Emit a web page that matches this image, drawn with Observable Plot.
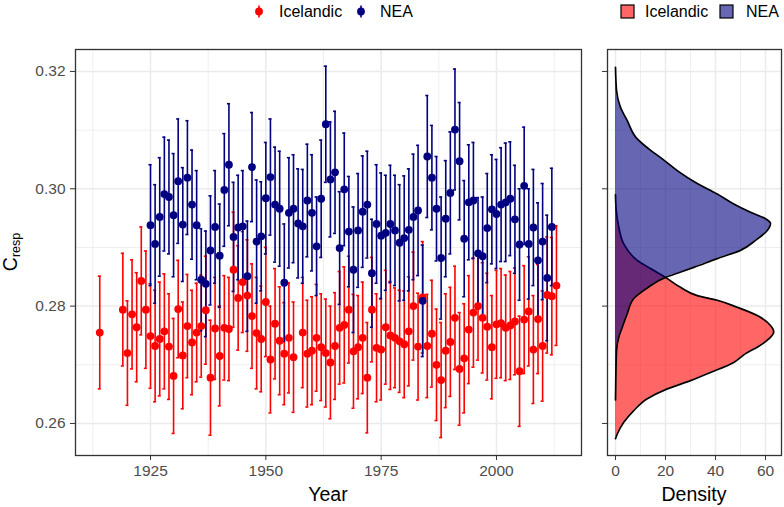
<!DOCTYPE html>
<html><head><meta charset="utf-8">
<script src="https://cdn.jsdelivr.net/npm/d3@7"></script>
<script src="https://cdn.jsdelivr.net/npm/@observablehq/plot@0.6"></script>
<style>
body{margin:0;background:#fff;}
#wrap{position:relative;width:784px;height:507px;font-family:"Liberation Sans",Arial,sans-serif;}
#wrap svg{position:absolute;top:0;}
</style></head><body><div id="wrap"></div>
<script>
// ---- data ----
const redYears = [1914,
1919,1920,1921,1922,1923,1924,1925,1926,1927,1928,1929,1930,1931,1932,1933,1934,1935,1936,1937,1938,1939,1940,1941,1942,1943,1944,1945,1946,1947,1948,1949,1950,1951,1952,1953,1954,1955,1956,
1958,1959,1960,1961,1962,1963,1964,1965,1966,1967,1968,1969,1970,1971,1972,1973,1974,1975,1976,1977,1978,1979,1980,1981,1982,1983,1984,1985,1986,1987,1988,1989,1990,1991,1992,1993,1994,1995,1996,1997,1998,1999,2000,2001,2002,2003,2004,2005,2006,2007,2008,2009,2010,2011,2012,2013];
const redVals = [0.2755,
0.2794,0.2720,0.2786,0.2764,0.2843,0.2794,0.2749,0.2732,0.2744,0.2757,0.2731,0.2681,0.2795,0.2716,0.2766,0.2738,0.2755,0.2766,0.2793,0.2678,0.2762,0.2715,0.2763,0.2761,0.2862,0.2814,0.2841,0.2818,0.2783,0.2754,0.2744,0.2807,0.2709,0.2770,0.2741,0.2719,0.2746,0.2713,
0.2755,0.2719,0.2724,0.2746,0.2730,0.2720,0.2704,0.2732,0.2763,0.2768,0.2794,0.2723,0.2730,0.2746,0.2678,0.2794,0.2729,0.2726,0.2764,0.2750,0.2746,0.2740,0.2735,0.2757,0.2800,0.2731,0.2815,0.2732,0.2753,0.2700,0.2674,0.2724,0.2739,0.2780,0.2693,0.2711,0.2760,0.2789,0.2800,0.2780,0.2765,0.2730,0.2769,0.2771,0.2763,0.2767,0.2774,0.2689,0.2777,0.2791,0.2726,0.2778,0.2732,0.2819,0.2817,0.2835];
const redErr = [0.0096,
0.0096,0.0089,0.0093,0.0093,0.0092,0.0100,0.0089,0.0095,0.0097,0.0098,0.0090,0.0098,0.0083,0.0091,0.0088,0.0089,0.0084,0.0087,0.0092,0.0098,0.0087,0.0085,0.0089,0.0088,0.0098,0.0089,0.0086,0.0095,0.0089,0.0095,0.0090,0.0093,0.0091,0.0094,0.0092,0.0087,0.0094,0.0094,
0.0094,0.0091,0.0092,0.0091,0.0091,0.0092,0.0096,0.0091,0.0096,0.0099,0.0091,0.0097,0.0088,0.0095,0.0094,0.0089,0.0092,0.0086,0.0097,0.0092,0.0085,0.0087,0.0091,0.0093,0.0092,0.0091,0.0095,0.0088,0.0091,0.0095,0.0098,0.0097,0.0093,0.0088,0.0096,0.0093,0.0092,0.0093,0.0092,0.0094,0.0091,0.0088,0.0092,0.0093,0.0090,0.0092,0.0091,0.0094,0.0092,0.0093,0.0092,0.0093,0.0094,0.0099,0.0100,0.0102];

const neaYears = [1925,1926,1927,1928,1929,1930,1931,1932,1933,1934,1935,1936,1937,1938,1939,1940,1941,1942,1943,1944,1945,1946,1947,1948,1949,1950,1951,1952,1953,1954,1955,1956,1957,1958,1959,1960,1961,1962,1963,1964,1965,1966,1967,1968,1969,1970,1971,1972,1973,1974,1975,1976,1977,1978,1979,1980,1981,1982,1983,1984,1985,1986,1987,1988,1989,1990,1991,1992,1993,1994,1995,1996,1997,1998,1999,2000,2001,2002,2003,2004,2005,2006,2007,2008,2009,2010,2011,2012];
const neaVals = [0.2938,0.2906,0.2952,0.2991,0.2986,0.2955,0.3013,0.2939,0.3019,0.2973,0.2938,0.2845,0.2838,0.2895,0.2935,0.2886,0.2998,0.3041,0.2918,0.2934,0.2936,0.2851,0.3037,0.2910,0.2919,0.2984,0.3020,0.2973,0.2966,0.2840,0.2959,0.2966,0.2941,0.2936,0.2980,0.2959,0.2902,0.2983,0.3110,0.3016,0.3028,0.2899,0.2999,0.2927,0.2862,0.2929,0.2961,0.2973,0.2856,0.2940,0.2920,0.2925,0.2940,0.2929,0.2908,0.2916,0.2930,0.2952,0.2963,0.2809,0.3055,0.3019,0.2966,0.2882,0.2949,0.2993,0.3101,0.3047,0.2915,0.2977,0.2980,0.2890,0.2885,0.2933,0.2965,0.2957,0.2973,0.2977,0.2983,0.2948,0.2905,0.3005,0.2906,0.2934,0.2878,0.2910,0.2848,0.2935];
const neaErr = [0.0103,0.0101,0.0101,0.0097,0.0097,0.0105,0.0106,0.0097,0.0097,0.0093,0.0093,0.0087,0.0090,0.0093,0.0096,0.0088,0.0096,0.0104,0.0093,0.0089,0.0095,0.0094,0.0093,0.0105,0.0093,0.0095,0.0099,0.0098,0.0098,0.0100,0.0094,0.0092,0.0093,0.0097,0.0096,0.0099,0.0084,0.0100,0.0099,0.0098,0.0104,0.0096,0.0096,0.0094,0.0107,0.0097,0.0095,0.0091,0.0092,0.0101,0.0107,0.0098,0.0100,0.0094,0.0099,0.0106,0.0104,0.0107,0.0111,0.0095,0.0104,0.0089,0.0089,0.0104,0.0099,0.0104,0.0103,0.0100,0.0099,0.0098,0.0099,0.0095,0.0101,0.0093,0.0093,0.0093,0.0097,0.0101,0.0097,0.0092,0.0095,0.0100,0.0094,0.0099,0.0098,0.0099,0.0107,0.0100];

// density curves (C_resp value, density)
const redDensV = [0.2574,0.2582,0.2602,0.2622,0.2642,0.2659,0.2673,0.2687,0.2704,0.2719,0.2730,0.2744,0.2756,0.2767,0.2784,0.2798,0.2810,0.2818,0.2832,0.2849,0.2864,0.2878,0.2906,0.2935,0.2963,0.2990];
const redDensD = [0,0.7,3.3,7.3,12.7,20.7,30,38,47.3,52,56.7,61.3,63.3,62,56.7,48.7,40.7,32.7,26,20,14,8.7,3.3,1.3,0.3,0];
const neaDensV = [0.2640,0.2668,0.2724,0.2747,0.2764,0.2787,0.2813,0.2831,0.2849,0.2856,0.2866,0.2881,0.2895,0.2912,0.2929,0.2941,0.2949,0.2960,0.2974,0.2991,0.3009,0.3031,0.3051,0.3068,0.3085,0.3116,0.3139,0.3168,0.3207];
const neaDensD = [0,0.1,0.4,1.3,2.7,4.7,7.3,12.7,20,24.7,31.3,40.7,50,56,60.7,62,60,54,47.3,40.7,32.7,24.7,18.7,13.3,8.7,4.7,2,0.4,0];

const xTicks = [1925,1950,1975,2000];
const xMinor = [1912.5,1937.5,1962.5,1987.5,2012.5];
const yTicks = [0.26,0.28,0.30,0.32];
const yMinor = [0.27,0.29,0.31];
const dTicks = [0,20,40,60];
const dMinor = [10,30,50];
const groups = ["Icelandic","NEA"];
const colors = ["#ff0000","#000080"];

// ---- build ----
const red = redYears.map((yr,i)=>({year:yr, v:redVals[i], e:redErr[i]}));
const nea = neaYears.map((yr,i)=>({year:yr, v:neaVals[i], e:neaErr[i]}));
const redD = redDensV.map((v,i)=>({v, d:redDensD[i]}));
const neaD = neaDensV.map((v,i)=>({v, d:neaDensD[i]}));

const FONT = "'Liberation Sans', Arial, sans-serif";
const style = {fontFamily: FONT, fontSize: "15.5px", background: "transparent", overflow: "visible"};
const yDomain = [0.25454, 0.32374];
const grid = "#ebebeb";
const EW = 1.6;

function errMarks(data, col) {
  return [
    Plot.ruleX(data, {x:"year", y1:d=>d.v-d.e, y2:d=>d.v+d.e, stroke:col, strokeWidth:EW}),
    Plot.ruleY(data, {y:d=>d.v+d.e, x1:d=>d.year-0.33, x2:d=>d.year+0.33, stroke:col, strokeWidth:EW}),
    Plot.ruleY(data, {y:d=>d.v-d.e, x1:d=>d.year-0.33, x2:d=>d.year+0.33, stroke:col, strokeWidth:EW})
  ];
}

const left = Plot.plot({
  width: 595, height: 507,
  marginLeft: 75, marginRight: 14, marginTop: 49, marginBottom: 52,
  style,
  x: {domain: [1908.74, 2018.43]},
  y: {domain: yDomain},
  marks: [
    Plot.ruleX(xMinor, {stroke:grid, strokeWidth:0.8}),
    Plot.ruleY(yMinor, {stroke:grid, strokeWidth:0.8}),
    Plot.ruleX(xTicks, {stroke:grid, strokeWidth:1.5}),
    Plot.ruleY(yTicks, {stroke:grid, strokeWidth:1.5}),
    ...errMarks(red, colors[0]),
    ...errMarks(nea, colors[1]),
    Plot.dot(red, {x:"year", y:"v", r:3.9, fill:colors[0]}),
    Plot.dot(nea, {x:"year", y:"v", r:3.9, fill:colors[1]}),
    Plot.frame({stroke:"#333333", strokeWidth:1.3}),
    Plot.axisX({ticks:xTicks, tickSize:5, tickPadding:4, stroke:"#333333", fill:"#4d4d4d", label:null, tickFormat:d=>String(d)}),
    Plot.axisY({ticks:yTicks, tickSize:5, tickPadding:5, stroke:"#333333", fill:"#4d4d4d", label:null, tickFormat:d3.format(".2f")})
  ]
});

const right = Plot.plot({
  width: 189, height: 507,
  marginLeft: 12, marginRight: 3, marginTop: 49, marginBottom: 52,
  style,
  x: {domain: [-3.2, 66.4]},
  y: {domain: yDomain},
  marks: [
    Plot.ruleX(dMinor, {stroke:grid, strokeWidth:0.8}),
    Plot.ruleY(yMinor, {stroke:grid, strokeWidth:0.8}),
    Plot.ruleX(dTicks, {stroke:grid, strokeWidth:1.5}),
    Plot.ruleY(yTicks, {stroke:grid, strokeWidth:1.5}),
    Plot.areaX(redD, {y:"v", x:"d", fill:colors[0], fillOpacity:0.6, curve:"monotone-y"}),
    Plot.line(redD, {x:"d", y:"v", stroke:"black", strokeWidth:1.7, curve:"monotone-y"}),
    Plot.areaX(neaD, {y:"v", x:"d", fill:colors[1], fillOpacity:0.6, curve:"monotone-y"}),
    Plot.line(neaD, {x:"d", y:"v", stroke:"black", strokeWidth:1.7, curve:"monotone-y"}),
    Plot.frame({stroke:"#333333", strokeWidth:1.3}),
    Plot.axisX({ticks:dTicks, tickSize:5, tickPadding:4, stroke:"#333333", fill:"#4d4d4d", label:null, tickFormat:d=>String(d)}),
    Plot.axisY({ticks:yTicks, tickSize:5, stroke:"#333333", label:null, tickFormat:()=>""})
  ]
});

const wrap = document.getElementById("wrap");
left.style.left = "0px";
right.style.left = "595px";
wrap.appendChild(left);
wrap.appendChild(right);

// axis titles
const ls = d3.select(left);
ls.append("text").attr("x", 328).attr("y", 500.7).attr("text-anchor","middle")
  .attr("font-size", 19.5).attr("fill","black").attr("font-family", FONT).text("Year");
const yt = ls.append("text").attr("transform","translate(16.7,252) rotate(-90)")
  .attr("text-anchor","middle").attr("font-size",19.5).attr("fill","black").attr("font-family", FONT);
yt.append("tspan").text("C");
yt.append("tspan").attr("font-size",12.5).attr("dy",3.5).text("resp");

d3.select(right).append("text").attr("x", 99).attr("y", 500.7).attr("text-anchor","middle")
  .attr("font-size", 19.5).attr("fill","black").attr("font-family", FONT).text("Density");

// legends
const leg = d3.select(wrap).append("svg").attr("width",784).attr("height",30)
  .style("left","0px").attr("font-family", FONT).attr("font-size", 16);
const cy = 11.5;
const lx = [259, 361], tx = [279, 380];
groups.forEach((g,i)=>{
  leg.append("line").attr("x1",lx[i]).attr("x2",lx[i]).attr("y1",cy-6).attr("y2",cy+6)
    .attr("stroke",colors[i]).attr("stroke-width",EW);
  leg.append("circle").attr("cx",lx[i]).attr("cy",cy).attr("r",3.9).attr("fill",colors[i]);
  leg.append("text").attr("x",tx[i]).attr("y",cy).attr("dy","0.35em").text(g);
});
const rx = [621, 720], rtx = [645, 746];
groups.forEach((g,i)=>{
  leg.append("rect").attr("x",rx[i]).attr("y",cy-6.5).attr("width",13).attr("height",13)
    .attr("fill",colors[i]).attr("fill-opacity",0.6).attr("stroke","black").attr("stroke-width",1.2);
  leg.append("text").attr("x",rtx[i]).attr("y",cy).attr("dy","0.35em").text(g);
});
</script></body></html>
